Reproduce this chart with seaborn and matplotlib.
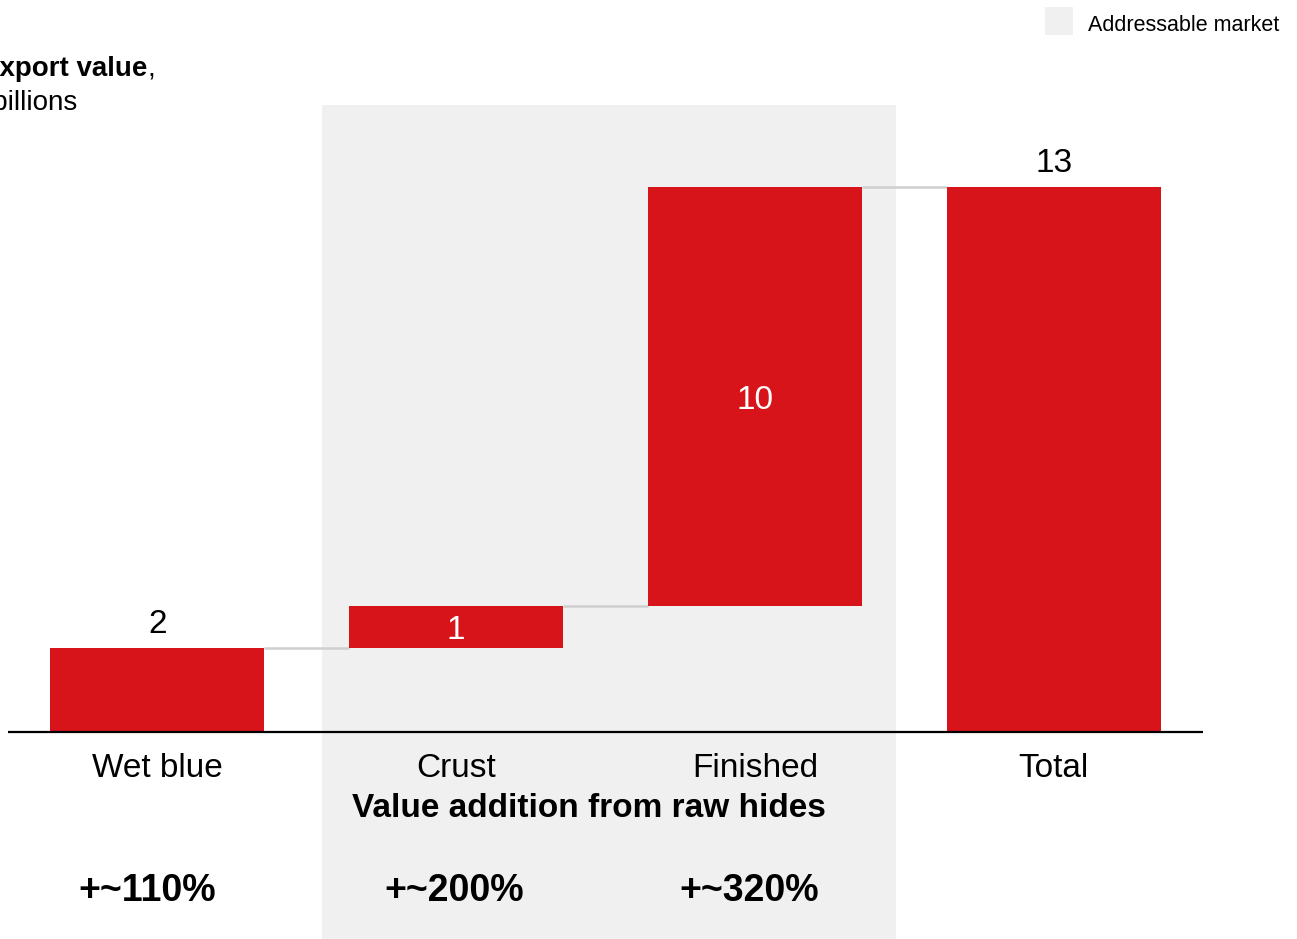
import matplotlib
matplotlib.use("Agg")
import matplotlib.pyplot as plt
from matplotlib.patches import Rectangle
import numpy as np
import pandas as pd
import seaborn as sns

# --- data -------------------------------------------------------------
stages = ["Wet blue", "Crust", "Finished", "Total"]
increments = [2, 1, 10, 13]
is_total = [False, False, False, True]
uplift_labels = ["+~110%", "+~200%", "+~320%"]
bracket_label = "Value addition from raw hides"
legend_label = "Addressable market"

RED = "#D7141A"
SHADE = "#F0F0F0"
CONNECTOR = "#CFCFCF"

# waterfall bottoms: running total for steps, zero for the total bar
bottoms = []
running = 0
for inc, tot in zip(increments, is_total):
    if tot:
        bottoms.append(0)
    else:
        bottoms.append(running)
        running += inc
df = pd.DataFrame({"stage": stages, "value": increments, "bottom": bottoms})

sns.set_theme(style="white")
plt.rcParams["font.family"] = ["Liberation Sans", "DejaVu Sans"]
plt.rcParams["text.color"] = "black"

W, H, DPI = 1297, 939, 100
fig = plt.figure(figsize=(W / DPI, H / DPI), dpi=DPI)
ax = fig.add_axes([8 / W, 0, (1203 - 8) / W, 1])

px_per_unit = 41.9
base_px = 732
ymin = -(H - base_px) / px_per_unit
ymax = base_px / px_per_unit
band_top = (base_px - 105) / px_per_unit

# addressable-market band behind the crust and finished stages
ax.add_patch(Rectangle((0.552, ymin), 2.472 - 0.552, band_top - ymin,
                       facecolor=SHADE, edgecolor="none", zorder=0))

sns.barplot(data=df, x="stage", y="value", order=stages, color=RED,
            saturation=1, width=0.716, errorbar=None, bottom=df["bottom"].values,
            ax=ax, zorder=2, linewidth=0)

ax.set_xlim(-0.5, 3.5)
ax.set_ylim(ymin, ymax)
ax.axis("off")
ax.axhline(0, xmin=0, xmax=1, color="black", lw=1.6, zorder=3)

# connectors between consecutive bar tops
half = 0.716 / 2
for i in range(len(stages) - 1):
    level = df["bottom"][i] + df["value"][i]
    ax.plot([i + half, i + 1 - half], [level, level], color=CONNECTOR,
            lw=1.8, zorder=1, solid_capstyle="butt")

# value labels
for i, (v, b, tot) in enumerate(zip(increments, bottoms, is_total)):
    if i == 0 or tot:
        ax.annotate(str(v), (i, b + v), xytext=(0, 15), textcoords="offset pixels",
                    ha="center", va="baseline", fontsize=24, color="black")
    else:
        ax.annotate(str(v), (i, b + v / 2), xytext=(0, -12), textcoords="offset pixels",
                    ha="center", va="baseline", fontsize=24, color="white", zorder=4)

# category labels
for i, s in enumerate(stages):
    ax.text(i, -45 / px_per_unit, s, ha="center", va="baseline", fontsize=24,
            color="black")

ax.text(1.443, -85 / px_per_unit, bracket_label, ha="center", va="baseline",
        fontsize=24, fontweight="bold", color="black")

uplift_x = [-0.033, 0.993, 1.98]
for x, lab in zip(uplift_x, uplift_labels):
    ax.text(x, -169 / px_per_unit, lab, ha="center", va="baseline",
            fontsize=27, fontweight="bold", color="black")

# unit title in the top-left corner
fig.text(-19 / W, 1 - 76 / H, "Export value", ha="left", va="baseline",
         fontsize=20, fontweight="bold", color="black")
fig.text(147 / W, 1 - 76 / H, ",", ha="left", va="baseline", fontsize=20,
         color="black")
fig.text(-31 / W, 1 - 109 / H, "$ billions", ha="left", va="baseline",
         fontsize=20, color="black")

# legend
fig.patches.append(Rectangle((1045 / W, 1 - 35 / H), 28 / W, 28 / H,
                             transform=fig.transFigure, facecolor=SHADE,
                             edgecolor="none", figure=fig))
fig.text(1088 / W, 1 - 31 / H, legend_label, ha="left", va="baseline",
         fontsize=15.5, color="black")

fig.savefig("out.png", dpi=DPI)
